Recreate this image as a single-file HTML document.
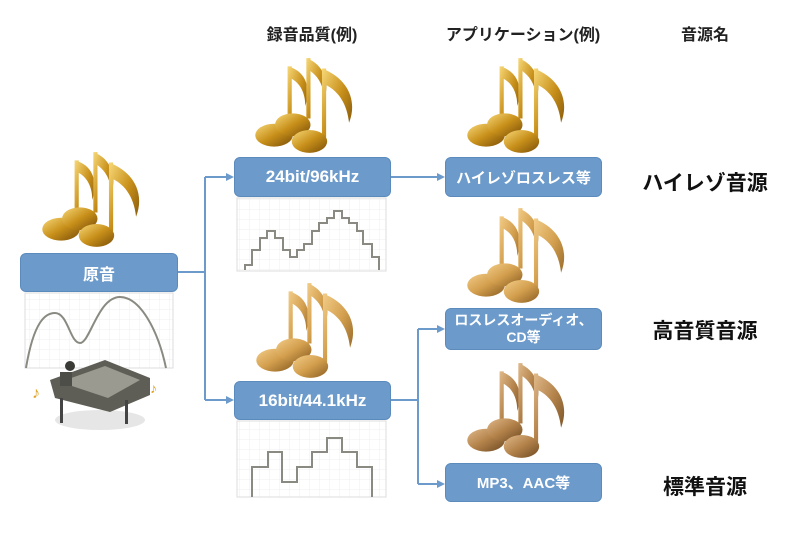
<!DOCTYPE html>
<html><head><meta charset="utf-8"><style>
html,body{margin:0;padding:0;background:#fff;}
body{width:800px;height:533px;position:relative;overflow:hidden;font-family:"Liberation Sans","Noto Sans CJK JP",sans-serif;}
.box{position:absolute;background:#6c9bcb;border:1px solid #5b8bbd;border-radius:6px;color:#fff;font-weight:bold;display:flex;align-items:center;justify-content:center;text-align:center;box-sizing:border-box;}
.h{position:absolute;font-weight:bold;font-size:16px;color:#222;transform:translateX(-50%);white-space:nowrap;}
.r{position:absolute;font-weight:bold;font-size:21px;color:#111;transform:translateX(-50%);white-space:nowrap;}
svg{position:absolute;left:0;top:0;}
</style></head><body>
<svg width="800" height="533" viewBox="0 0 800 533">
<defs>
<pattern id="grid" width="10" height="10" patternUnits="userSpaceOnUse"><path d="M10 0V10H0" fill="none" stroke="#efefef" stroke-width="1"/></pattern>
<linearGradient id="g1" x1="0" y1="0" x2="1" y2="1"><stop offset="0" stop-color="#f7d878"/><stop offset=".5" stop-color="#c8901a"/><stop offset="1" stop-color="#7a4e08"/></linearGradient>
<linearGradient id="g2" x1="0" y1="0" x2="1" y2="1"><stop offset="0" stop-color="#f2cc88"/><stop offset=".5" stop-color="#d39f4e"/><stop offset="1" stop-color="#8a5e22"/></linearGradient>
<linearGradient id="g3" x1="0" y1="0" x2="1" y2="1"><stop offset="0" stop-color="#e0b98a"/><stop offset=".5" stop-color="#b3824a"/><stop offset="1" stop-color="#6e4a22"/></linearGradient>
<symbol id="note" viewBox="0 0 110 95">
<path d="M33 10 L37 10 L37 66 L33 66Z M33 10 C50 14 56 30 50 48 C50 34 44 24 33 20Z"/>
<path d="M51 2 L55 2 L55 60 L51 60Z M51 2 C68 8 74 26 68 42 C68 28 62 18 51 12Z"/>
<path d="M66 12 L70 12 L70 78 L66 78Z M66 12 C92 22 100 44 92 64 C90 46 82 34 70 28Z"/>
<ellipse cx="20" cy="76" rx="18" ry="11"/>
<ellipse cx="38" cy="66" rx="17" ry="11"/>
<ellipse cx="54" cy="82" rx="17" ry="11"/>
</symbol>
</defs>
<use href="#note" x="40" y="150" width="115" height="99" fill="url(#g1)"/>
<use href="#note" x="253" y="56" width="115" height="99" fill="url(#g1)"/>
<use href="#note" x="465" y="56" width="115" height="99" fill="url(#g1)"/>
<use href="#note" x="254" y="281" width="115" height="99" fill="url(#g2)"/>
<use href="#note" x="465" y="206" width="115" height="99" fill="url(#g2)"/>
<use href="#note" x="465" y="361" width="115" height="99" fill="url(#g3)"/>
<rect x="25" y="293" width="148" height="75" fill="url(#grid)" stroke="#ddd"/>
<rect x="237" y="198" width="149" height="73" fill="url(#grid)" stroke="#ddd"/>
<rect x="237" y="421" width="149" height="76" fill="url(#grid)" stroke="#ddd"/>
<path d="M26 368 C34 320 46 313 55 313 C68 313 70 343 80 343 C90 343 98 297 120 297 C140 297 158 330 166 368" fill="none" stroke="#8a8a82" stroke-width="2"/>
<path d="M245 270V265H252V250H260V238H267V231H275V238H283V250H290V257H297V250H304V244H312V231H319V223H327V218H334V211H342V218H349V223H357V231H363V244H372V257H379V270" fill="none" stroke="#8a8a82" stroke-width="2"/>
<path d="M252 497V467H268V452H282V482H297V467H312V452H327V438H342V452H357V467H372V497" fill="none" stroke="#8a8a82" stroke-width="2"/>
<g stroke="#6c9bcb" stroke-width="2" fill="none">
<path d="M178 272H205M205 177V400M205 177H228M205 400H228"/>
<path d="M391 177H439"/>
<path d="M391 400H418M418 329V484M418 329H439M418 484H439"/>
</g>
<g fill="#6c9bcb">
<path d="M234 177l-8-4v8z"/><path d="M234 400l-8-4v8z"/>
<path d="M445 177l-8-4v8z"/><path d="M445 329l-8-4v8z"/><path d="M445 484l-8-4v8z"/>
</g>
<ellipse cx="100" cy="420" rx="45" ry="10" fill="#e6e6e6"/>
<path d="M50 380 L105 360 L150 378 L150 395 L110 412 L55 398Z" fill="#5e5e56"/>
<path d="M60 382 L105 366 L140 380 L108 398Z" fill="#9a9a90"/>
<rect x="60" y="372" width="12" height="14" fill="#4e4e48"/>
<circle cx="70" cy="366" r="5" fill="#3a3a36"/>
<rect x="60" y="398" width="3" height="25" fill="#444"/><rect x="125" y="400" width="3" height="24" fill="#444"/>
<text x="32" y="398" font-size="16" fill="#e0a020">♪</text><text x="150" y="393" font-size="14" fill="#e0a020">♪</text>
</svg>
<div class="h" style="left:312px;top:21px">録音品質(例)</div>
<div class="h" style="left:523px;top:21px">アプリケーション(例)</div>
<div class="h" style="left:705px;top:21px">音源名</div>
<div class="box" style="left:20px;top:253px;width:158px;height:39px;font-size:16px">原音</div>
<div class="box" style="left:234px;top:157px;width:157px;height:40px;font-size:17px">24bit/96kHz</div>
<div class="box" style="left:234px;top:381px;width:157px;height:39px;font-size:17px">16bit/44.1kHz</div>
<div class="box" style="left:445px;top:157px;width:157px;height:40px;font-size:15px">ハイレゾロスレス等</div>
<div class="box" style="left:445px;top:308px;width:157px;height:42px;font-size:14px;line-height:17px">ロスレスオーディオ、<br>CD等</div>
<div class="box" style="left:445px;top:463px;width:157px;height:39px;font-size:15px">MP3、AAC等</div>
<div class="r" style="left:705px;top:167px">ハイレゾ音源</div>
<div class="r" style="left:705px;top:315px">高音質音源</div>
<div class="r" style="left:705px;top:471px">標準音源</div>
</body></html>
